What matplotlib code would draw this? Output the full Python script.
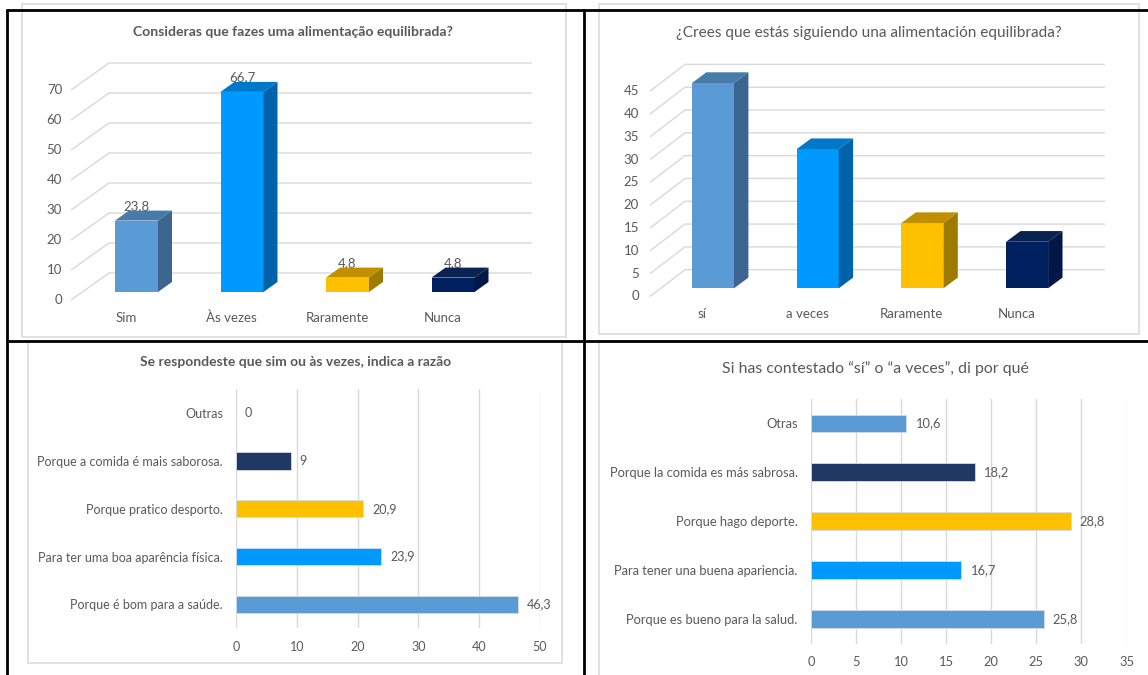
import numpy as np
import matplotlib
matplotlib.use("Agg")
import matplotlib.pyplot as plt
from matplotlib.patches import Rectangle
import matplotlib.transforms as mtransforms

plt.rcParams['font.family'] = ['Lato', 'DejaVu Sans']

W, H, DPI = 1148, 675, 100
TXT = '#595959'
GRID = '#D9D9D9'

# --- data -------------------------------------------------------------
pt_cats = ["Sim", "Às vezes", "Raramente", "Nunca"]
pt_vals = [23.8, 66.7, 4.8, 4.8]
pt_ticks = list(range(0, 71, 10))

es_cats = ["sí", "a veces", "Raramente", "Nunca"]
es_vals = [45.0, 30.5, 14.3, 10.2]
es_ticks = list(range(0, 46, 5))

pt_reason_cats = ["Porque é bom para a saúde.", "Para ter uma boa aparência física.",
                  "Porque pratico desporto.", "Porque a comida é mais saborosa.", "Outras"]
pt_reason_vals = [46.3, 23.9, 20.9, 9, 0]
pt_reason_ticks = list(range(0, 51, 10))

es_reason_cats = ["Porque es bueno para la salud.", "Para tener una buena apariencia.",
                  "Porque hago deporte.", "Porque la comida es más sabrosa.", "Otras"]
es_reason_vals = [25.8, 16.7, 28.8, 18.2, 10.6]
es_reason_ticks = list(range(0, 36, 5))

# column colours: front, top, side faces
col_front = ['#5B9BD5', '#0099FF', '#FFC000', '#002060']
col_top = ['#477BAA', '#0078C8', '#C09000', '#0A2250']
col_side = ['#3C6590', '#0062A8', '#9E7A00', '#001848']

pt_reason_colors = ['#5B9BD5', '#0099FF', '#FFC000', '#203864', '#5B9BD5']
es_reason_colors = ['#5B9BD5', '#0099FF', '#FFC000', '#203864', '#5B9BD5']


def fmt(v):
    return f"{v:g}".replace('.', ',')


fig = plt.figure(figsize=(W / DPI, H / DPI), dpi=DPI)
fig.patch.set_facecolor('white')


def px_axes(l, t, r, b):
    return fig.add_axes([l / W, 1 - b / H, (r - l) / W, (b - t) / H])


def column3d(ax, cats, vals, ticks, ymax, wall_left, wall_right, depth, drop,
             side, bar_px, label_gap, cat_drop, show_values, fs):
    n = len(cats)
    ax.set_xlim(-0.5, n - 0.5)
    ax.set_ylim(0, ymax)
    ax.axis('off')
    bb = ax.get_window_extent()
    sx = bb.width / n
    sy = bb.height / ymax
    x = np.arange(n)
    w = bar_px / sx

    # back wall with its gridlines
    xf = -0.5 + wall_left / sx
    xb = xf + depth[0] / sx
    xr = n - 0.5 + wall_right / sx
    lo = -drop / sy
    hi = lo + depth[1] / sy
    for v in ticks:
        ax.plot([xf, xb, xr], [v + lo, v + hi, v + hi], color=GRID, lw=1.0,
                clip_on=False, zorder=1, solid_capstyle='butt')
        ax.text(xf - label_gap / sx, v + lo, str(v), ha='right', va='center',
                color=TXT, fontsize=fs, clip_on=False)

    # columns: front face, top face, side face
    ax.bar(x, vals, width=w, color=col_front, zorder=3, linewidth=0)
    ddx, ddy = side[0] / sx, side[1] / sy
    for xi, v, ct, cs in zip(x, vals, col_top, col_side):
        l, r = xi - w / 2, xi + w / 2
        ax.fill([l, r, r + ddx, l + ddx], [v, v, v + ddy, v + ddy],
                color=ct, zorder=3, lw=0, clip_on=False)
        ax.fill([r, r + ddx, r + ddx, r], [0, ddy, v + ddy, v],
                color=cs, zorder=3, lw=0, clip_on=False)
        if show_values:
            ax.text(xi, v + 14.5 / sy, fmt(v), ha='center', va='center',
                    color=TXT, fontsize=fs, zorder=2, clip_on=False)

    for xi, c in zip(x, cats):
        ax.text(xi - 10.5 / sx, -cat_drop / sy, c, ha='center', va='center',
                color=TXT, fontsize=fs, clip_on=False)


def hbar(ax, cats, vals, colors, ticks, xmax, fs):
    y = np.arange(len(cats))
    ax.barh(y, vals, height=0.36, color=colors, edgecolor='#D5DCE8',
            linewidth=0.6, zorder=3)
    ax.set_xlim(0, xmax)
    ax.set_ylim(-0.5, len(cats) - 0.5)
    ax.set_xticks(ticks)
    ax.set_yticks(y, cats)
    ax.grid(axis='x', color=GRID, lw=1.0, zorder=0)
    ax.grid(axis='y', visible=False)
    ax.set_axisbelow(True)
    for s in ax.spines.values():
        s.set_visible(False)
    ax.tick_params(length=0, colors=TXT, labelsize=fs)
    ax.tick_params(axis='y', pad=9.5)
    ax.tick_params(axis='x', pad=9)
    off = mtransforms.offset_copy(ax.transData, fig=fig, x=9, y=0, units='dots')
    for v, yi in zip(vals, y):
        ax.text(v, yi, fmt(v), transform=off, ha='left', va='center',
                color=TXT, fontsize=fs)


# top-left: 3D columns (Portuguese)
ax1 = px_axes(83.75, 82, 505.75, 292)
column3d(ax1, pt_cats, pt_vals, pt_ticks, 70, wall_left=-12.75, wall_right=26.25,
         depth=(38, 27), drop=8, side=(14, 10), bar_px=43, label_gap=9,
         cat_drop=26, show_values=True, fs=9.5)

# top-right: 3D columns (Spanish)
ax2 = px_axes(660.65, 83.0, 1079.45, 288.3)
column3d(ax2, es_cats, es_vals, es_ticks, 45, wall_left=-10.65, wall_right=25.5,
         depth=(35, 26.8), drop=8.2, side=(14.4, 10.7), bar_px=42, label_gap=11,
         cat_drop=25.7, show_values=False, fs=9.5)

# bottom-left: horizontal bars (Portuguese)
ax3 = px_axes(236, 389.4, 540, 628.2)
hbar(ax3, pt_reason_cats, pt_reason_vals, pt_reason_colors, pt_reason_ticks, 50, fs=9.0)

# bottom-right: horizontal bars (Spanish)
ax4 = px_axes(810.9, 398.9, 1126.5, 643.5)
hbar(ax4, es_reason_cats, es_reason_vals, es_reason_colors, es_reason_ticks, 35, fs=9.3)

# titles
fig.text(293 / W, 1 - 31.7 / H, "Consideras que fazes uma alimentação equilibrada?",
         ha='center', va='center', fontsize=10.1, fontweight='bold', color=TXT)
fig.text(868.6 / W, 1 - 33 / H, "¿Crees que estás siguiendo una alimentación equilibrada?",
         ha='center', va='center', fontsize=11.1, color=TXT)
fig.text(296 / W, 1 - 361.7 / H, "Se respondeste que sim ou às vezes, indica a razão",
         ha='center', va='center', fontsize=10, fontweight='bold', color=TXT)
fig.text(875 / W, 1 - 368.3 / H, "Si has contestado “sí” o “a veces”, di por qué",
         ha='center', va='center', fontsize=11.4, color=TXT)

# panel frames and dividing lines
ov = fig.add_axes([0, 0, 1, 1])
ov.set_xlim(0, W)
ov.set_ylim(H, 0)
ov.axis('off')
for (l, t, r, b) in [(22, 4, 565.7, 337), (599, 4, 1139, 334),
                     (28, 341, 562, 662.5), (599, 341, 1160, 690)]:
    ov.add_patch(Rectangle((l, t), r - l, b - t, fill=False, edgecolor='#DCDCDC', lw=1.2))
black = dict(color='black', lw=2.0, solid_capstyle='butt')
ov.plot([6, W], [10, 10], **black)
ov.plot([7, 7], [9, H], **black)
ov.plot([583.5, 583.5], [9, H], **black)
ov.plot([6, W], [340.7, 340.7], **black)

fig.savefig("out.png", dpi=DPI, facecolor='white')
